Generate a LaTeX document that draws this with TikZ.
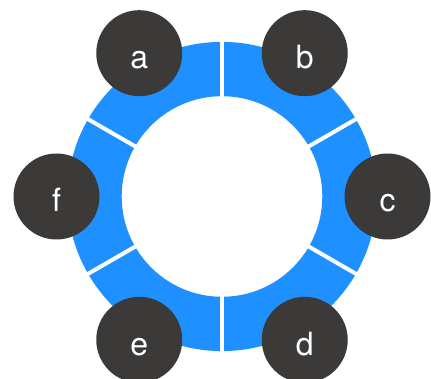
\documentclass[tikz,border=0pt]{standalone}
\usepackage{fontspec}
\setmainfont{TeX Gyre Heros}
\definecolor{ringblue}{HTML}{1E90FF}
\definecolor{dotgray}{HTML}{3B3A39}
% letters sit with their baseline a little below the disc centre
\newcommand{\dotlabel}[1]{\raisebox{-15.5pt}[0pt][0pt]{#1}}
\tikzset{
  dot/.style={circle, fill=dotgray, minimum size=86pt, inner sep=0pt,
              text=white, font=\fontsize{32}{32}\selectfont},
  divider/.style={white, line width=4pt}
}
\begin{document}
\begin{tikzpicture}[x=1pt,y=1pt]
  \useasboundingbox (0,0) rectangle (431,379);
  \begin{scope}[shift={(222,182.5)}]
    % blue ring
    \fill[ringblue, even odd rule] (0,0) circle (154.6) (0,0) circle (100.3);
    % white gaps between the six segments
    \foreach \ang in {30,90,150,210,270,330}
      \draw[divider] (\ang:98) -- (\ang:157);
    % labelled discs around the ring
    \node[dot] (a) at (120:165.5) {\dotlabel{a}};
    \node[dot] (b) at (60:165.5) {\dotlabel{b}};
    \node[dot] (c) at (0:165.5) {\dotlabel{c}};
    \node[dot] (d) at (-60:165.5) {\dotlabel{d}};
    \node[dot] (e) at (-120:165.5) {\dotlabel{e}};
    \node[dot] (f) at (180:165.5) {\dotlabel{f}};
  \end{scope}
\end{tikzpicture}
\end{document}
